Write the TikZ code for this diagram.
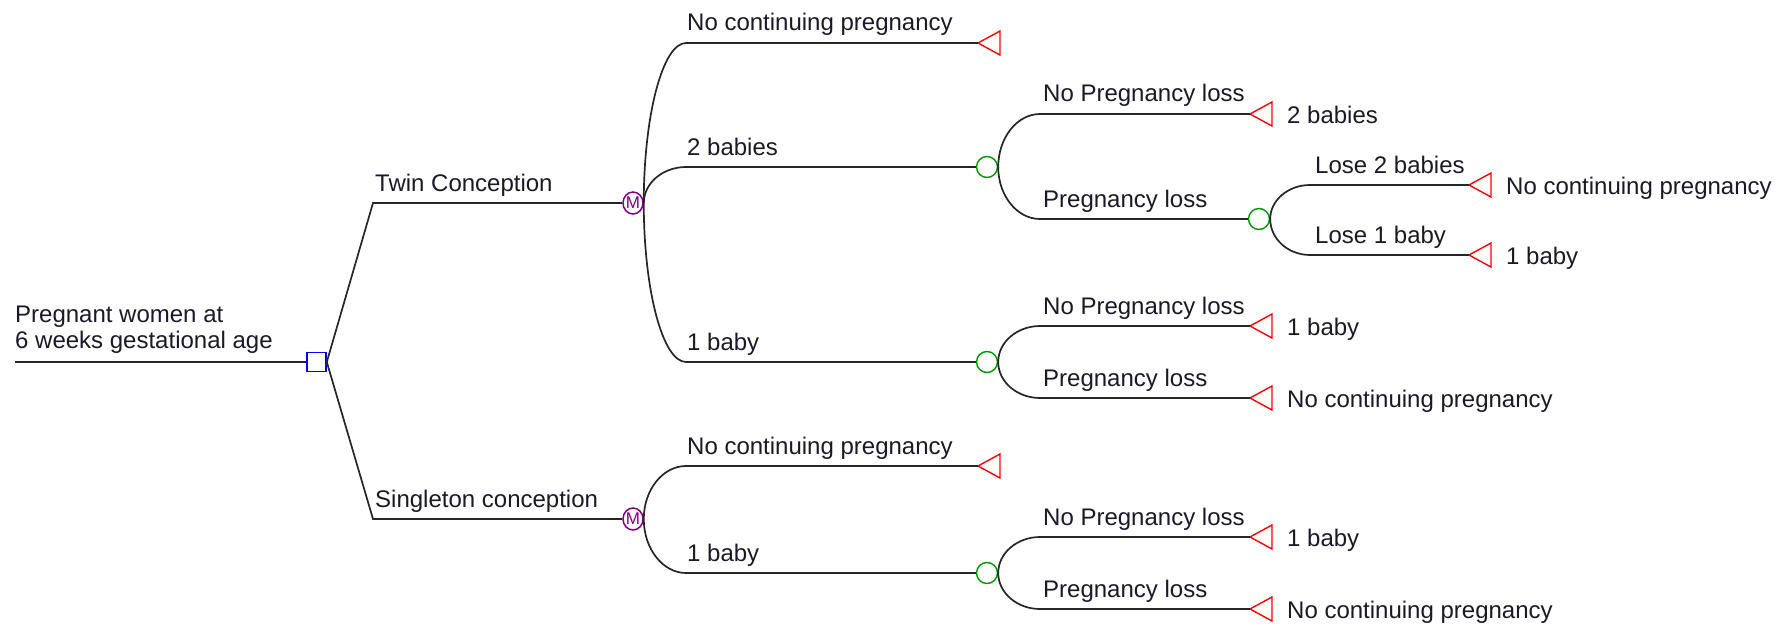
\documentclass[tikz,border=0pt]{standalone}
\usepackage{fontspec}
\setmainfont{Liberation Sans}
\usetikzlibrary{calc,shapes.geometric}
\definecolor{dnode}{RGB}{0,0,255}
\definecolor{mnode}{RGB}{128,0,128}
\definecolor{cnode}{RGB}{0,150,0}
\definecolor{tnode}{RGB}{255,0,0}
\definecolor{ink}{RGB}{25,25,40}

% terminal node: red triangle whose tip is the named coordinate, with its outcome text
\newcommand{\leafat}[4]{%
  \coordinate (#1) at (#2,#3);
  \draw[leaf] (#1) -- ++(22,-12) -- ++(0,24) -- cycle;
  \node[blbl] (#1-l) at ([xshift=37pt,yshift=-9pt]#1) {#4};}

\begin{document}
\begin{tikzpicture}[x=1pt,y=-1pt,
  wire/.style={line width=1.7pt, draw=black!85},
  fork/.style={to path={.. controls ($(\tikztostart)!0.55!(\tikztostart|-\tikztotarget)$)
      and ($(\tikztotarget)!0.55!(\tikztostart|-\tikztotarget)$) .. (\tikztotarget)}},
  decision/.style={rectangle, draw=dnode, line width=1.6pt, minimum size=19pt, inner sep=0pt},
  markov/.style={ellipse, draw=mnode, line width=1.5pt, minimum width=20pt, minimum height=22pt,
      inner sep=0pt, text=mnode, font=\fontsize{17}{17}\selectfont},
  chance/.style={circle, draw=cnode, line width=1.4pt, minimum size=21pt, inner sep=0pt},
  leaf/.style={draw=tnode, line width=1.4pt, line join=miter},
  blbl/.style={anchor=base west, inner sep=0pt, font=\fontsize{24}{29}\selectfont, text=ink},
  ]
\useasboundingbox (0,0) rectangle (1781,626);

% root
\coordinate (r0) at (15,362);
\node[blbl] (rl1) at (15,322) {Pregnant women at};
\node[blbl] (rl2) at (15,348) {6 weeks gestational age};
\node[decision] (dec) at (316.5,362) {};
\draw[wire] (r0) -- (dec.west);

% conception type
\coordinate (tw) at (373,203);
\coordinate (sg) at (373,519);
\node[markov] (m1) at (633,203) {M};
\node[markov] (m2) at (633,519) {M};
\draw[wire] (dec.east) -- (tw) -- (m1.west);
\draw[wire] (dec.east) -- (sg) -- (m2.west);
\node[blbl] (twl) at (375,191) {Twin Conception};
\node[blbl] (sgl) at (375,507) {Singleton conception};

% twin conception
\coordinate (a1) at (686,43);
\coordinate (a2) at (686,167);
\coordinate (a3) at (686,362);
\leafat{t1}{978}{43}{}
\node[chance] (c1) at (987,167) {};
\node[chance] (c2) at (987,362) {};
\draw[wire] (m1.east) to[fork] (a1) -- (t1);
\draw[wire] (m1.east) to[fork] (a2) -- (c1.west);
\draw[wire] (m1.east) to[fork] (a3) -- (c2.west);
\node[blbl] (a1l) at (687,31) {No continuing pregnancy};
\node[blbl] (a2l) at (687,155) {2 babies};
\node[blbl] (a3l) at (687,350) {1 baby};

% twin, 2 babies
\coordinate (b1) at (1040,114);
\coordinate (b2) at (1040,219);
\leafat{t2}{1250}{114}{2 babies}
\node[chance] (c3) at (1259,219) {};
\draw[wire] (c1.east) to[fork] (b1) -- (t2);
\draw[wire] (c1.east) to[fork] (b2) -- (c3.west);
\node[blbl] (b1l) at (1043,102) {No Pregnancy loss};
\node[blbl] (b2l) at (1043,207) {Pregnancy loss};

% twin, 2 babies, pregnancy loss
\coordinate (d1) at (1310,185);
\coordinate (d2) at (1310,255);
\leafat{t3}{1469}{185}{No continuing pregnancy}
\leafat{t4}{1469}{255}{1 baby}
\draw[wire] (c3.east) to[fork] (d1) -- (t3);
\draw[wire] (c3.east) to[fork] (d2) -- (t4);
\node[blbl] (d1l) at (1315,173) {Lose 2 babies};
\node[blbl] (d2l) at (1315,243) {Lose 1 baby};

% twin, 1 baby
\coordinate (e1) at (1040,326);
\coordinate (e2) at (1040,398);
\leafat{t5}{1250}{326}{1 baby}
\leafat{t6}{1250}{398}{No continuing pregnancy}
\draw[wire] (c2.east) to[fork] (e1) -- (t5);
\draw[wire] (c2.east) to[fork] (e2) -- (t6);
\node[blbl] (e1l) at (1043,314) {No Pregnancy loss};
\node[blbl] (e2l) at (1043,386) {Pregnancy loss};

% singleton conception
\coordinate (f1) at (686,466);
\coordinate (f2) at (686,573);
\leafat{t7}{978}{466}{}
\node[chance] (c4) at (987,573) {};
\draw[wire] (m2.east) to[fork] (f1) -- (t7);
\draw[wire] (m2.east) to[fork] (f2) -- (c4.west);
\node[blbl] (f1l) at (687,454) {No continuing pregnancy};
\node[blbl] (f2l) at (687,561) {1 baby};

% singleton, 1 baby
\coordinate (g1) at (1040,537);
\coordinate (g2) at (1040,609);
\leafat{t8}{1250}{537}{1 baby}
\leafat{t9}{1250}{609}{No continuing pregnancy}
\draw[wire] (c4.east) to[fork] (g1) -- (t8);
\draw[wire] (c4.east) to[fork] (g2) -- (t9);
\node[blbl] (g1l) at (1043,525) {No Pregnancy loss};
\node[blbl] (g2l) at (1043,597) {Pregnancy loss};
\end{tikzpicture}
\end{document}
